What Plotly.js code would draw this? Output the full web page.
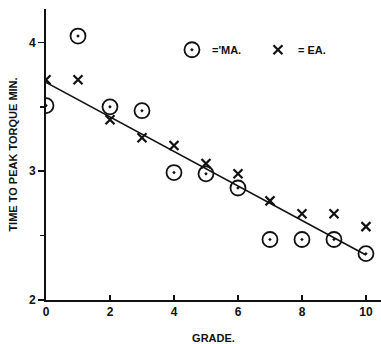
<!DOCTYPE html>
<html>
<head>
<meta charset="utf-8">
<script src="https://cdn.plot.ly/plotly-3.0.1.min.js"></script>
<style>html,body{margin:0;padding:0;background:#fff;}#chart{width:381px;height:344px;}</style>
</head>
<body>
<div id="chart"></div>
<script>
// Data
const grade = [0, 1, 2, 3, 4, 5, 6, 7, 8, 9, 10];
const maValues = [3.51, 4.05, 3.50, 3.47, 2.99, 2.98, 2.87, 2.47, 2.47, 2.47, 2.36];
const eaValues = [3.71, 3.71, 3.40, 3.26, 3.20, 3.06, 2.98, 2.77, 2.67, 2.67, 2.57];
const fitX = [0, 10];
const fitY = [3.69, 2.35];
const xTicks = [0, 2, 4, 6, 8, 10];
const yTicks = [2, 3, 4];
const maLabel = "='MA.";
const eaLabel = "= EA.";
const xTitle = "GRADE.";
const yTitle = "TIME TO PEAK TORQUE MIN.";

const font = {family: "Liberation Sans, Arial, sans-serif", color: "#111"};

const traces = [
  {x: fitX, y: fitY, mode: "lines", line: {color: "#111", width: 1.6}, showlegend: false, hoverinfo: "skip"},
  {x: grade, y: maValues, mode: "markers", name: maLabel,
   marker: {symbol: "circle-open-dot", size: 15, color: "#111", line: {width: 1.8, color: "#111"}}},
  {x: grade, y: eaValues, mode: "markers", name: eaLabel,
   marker: {symbol: "x-thin-open", size: 9, color: "#111", line: {width: 2.2, color: "#111"}}}
];

const layout = {
  width: 381, height: 344,
  margin: {l: 46, r: 0, t: 9, b: 44},
  paper_bgcolor: "#fff", plot_bgcolor: "#fff",
  font: Object.assign({size: 11}, font),
  showlegend: true,
  legend: {orientation: "h", x: 0.376, y: 0.86, xanchor: "left", yanchor: "middle",
           font: Object.assign({size: 11, weight: "bold"}, font), bgcolor: "rgba(0,0,0,0)",
           itemwidth: 30, entrywidth: 41, entrywidthmode: "pixels", tracegroupgap: 0},
  xaxis: {range: [0, 10.47], tickvals: xTicks, ticktext: xTicks.map(String),
          showgrid: false, zeroline: false, showline: true, linecolor: "#111", linewidth: 2,
          ticks: "inside", ticklen: 5, tickwidth: 1.5, tickcolor: "#111",
          tickfont: Object.assign({size: 12, weight: "bold"}, font),
          title: {text: xTitle, font: Object.assign({size: 11, weight: "bold"}, font), standoff: 16}},
  yaxis: {range: [2, 4.26], tickvals: yTicks, ticktext: yTicks.map(String),
          showgrid: false, zeroline: false, showline: true, linecolor: "#111", linewidth: 2,
          ticks: "outside", ticklen: 6, tickwidth: 1.5, tickcolor: "#111",
          minor: {tickvals: [2.5, 3.5], ticks: "outside", ticklen: 4, tickcolor: "#111"},
          tickfont: Object.assign({size: 12, weight: "bold"}, font),
          title: {text: yTitle, font: Object.assign({size: 11, weight: "bold"}, font), standoff: 9}}
};

Plotly.newPlot("chart", traces, layout, {displayModeBar: false, staticPlot: true});
</script>
</body>
</html>
